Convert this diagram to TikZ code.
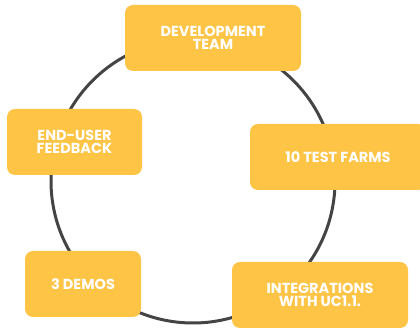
\documentclass[tikz,border=0pt]{standalone}
\usepackage{fontspec}
\setmainfont{Poppins}
\definecolor{boxyellow}{HTML}{FDC446}
\definecolor{ringgray}{HTML}{444444}
\tikzset{
  stage/.style={fill=boxyellow,rounded corners=8pt,text=white,align=center,
    font=\fontsize{14.5}{13}\selectfont\bfseries,inner sep=0pt},
}
\begin{document}
\begin{tikzpicture}[x=1pt,y=-1pt]
\useasboundingbox(0,0)rectangle(420,328);
\draw[ringgray,line width=3pt](193,181)circle[radius=142pt];
\node[stage,minimum width=176pt,minimum height=66pt](dev)at(213,38){DEVELOPMENT\\TEAM};
\node[stage,minimum width=135pt,minimum height=66pt](feedback)at(74.5,142){END-USER\\FEEDBACK};
\node[stage,minimum width=176pt,minimum height=66pt](farms)at(338,157){10 TEST FARMS};
\node[stage,minimum width=116pt,minimum height=66pt](demos)at(83,284){3 DEMOS};
\node[stage,minimum width=176pt,minimum height=66pt](integ)at(320,295){INTEGRATIONS\\WITH UC1.1.};
\end{tikzpicture}
\end{document}
